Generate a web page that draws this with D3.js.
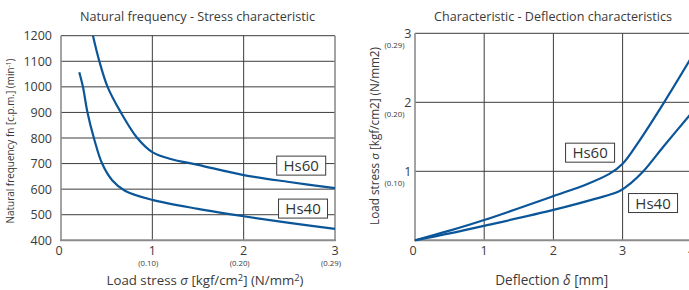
<!DOCTYPE html>
<meta charset="utf-8">
<style>
  body { margin: 0; background: #fff; }
  svg { font-family: "Open Sans", "Noto Sans", sans-serif; }
  .grid { stroke: #3c3c3c; stroke-width: 1; }
  .frame { stroke: #8c8c8c; stroke-width: 1.6; }
  .tick { fill: #3a3a3a; font-size: 12.5px; }
  .sub { fill: #3a3a3a; font-size: 7.8px; }
  .title { fill: #3a3a3a; font-size: 14px; }
  .curve { fill: none; stroke: #0b5698; stroke-width: 2.2; }
  .tag rect { fill: #fff; stroke: #3a3a3a; stroke-width: 1; }
  .tag text { fill: #333; font-size: 15px; }
</style>
<body>
<svg width="689" height="290"></svg>
<script src="https://cdn.jsdelivr.net/npm/d3@7"></script>
<script>
// ---- data ----
const seriesNames = ["Hs60", "Hs40"];

// natural frequency vs load stress
const freqXTicks = [0, 1, 2, 3];
const freqXSub = ["", "(0.10)", "(0.20)", "(0.29)"];
const freqYTicks = [400, 500, 600, 700, 800, 900, 1000, 1100, 1200];
const hs60Freq = [[0.35, 1200], [0.42, 1100], [0.51, 1000], [0.655, 900], [0.835, 800],
  [1.0, 745], [1.2, 718], [1.5, 695], [2.0, 655], [2.5, 628], [3.0, 604]];
const hs40Freq = [[0.20, 1057], [0.24, 1000], [0.29, 900], [0.36, 800], [0.45, 700],
  [0.56, 635], [0.70, 594], [1.0, 558], [1.5, 523], [2.0, 494], [2.5, 468], [3.0, 445]];

// load stress vs deflection
const deflXTicks = [0, 1, 2, 3, 4];
const deflYTicks = [1, 2, 3];
const deflYSub = ["(0.10)", "(0.20)", "(0.29)"];
const hs60Defl = [[0, 0], [0.5, 0.14], [1, 0.294], [2, 0.64], [2.5, 0.82],
  [2.82, 0.97], [3.0, 1.11], [3.2, 1.38], [3.6, 2.0], [4.0, 2.66]];
const hs40Defl = [[0, 0], [0.5, 0.10], [1, 0.21], [2, 0.44], [2.6, 0.60], [2.95, 0.71],
  [3.12, 0.83], [3.3, 1.0], [3.6, 1.37], [4.0, 1.85]];

const svg = d3.select("svg");

function chart(o) {
  const g = svg.append("g");
  const [x0, x1] = o.x.range(), [yb, yt] = o.y.range();
  const clipId = "clip" + o.id;
  svg.append("clipPath").attr("id", clipId)
    .append("rect").attr("x", x0).attr("y", yt - 2).attr("width", x1 - x0).attr("height", yb - yt + 4);

  // grid
  g.selectAll(".gx").data(o.xTicks.slice(1, -1).concat(o.openRight ? [o.xTicks[o.xTicks.length - 1]] : []))
    .enter().append("line").attr("class", "grid")
    .attr("x1", d => o.x(d)).attr("x2", d => o.x(d)).attr("y1", yt).attr("y2", yb);
  g.selectAll(".gy").data(o.yTicks.filter(d => d !== o.y.domain()[0]))
    .enter().append("line").attr("class", "grid")
    .attr("x1", x0).attr("x2", x1).attr("y1", d => o.y(d)).attr("y2", d => o.y(d));
  // frame
  g.append("line").attr("class", "frame").attr("x1", x0).attr("x2", x0).attr("y1", yt).attr("y2", yb);
  if (!o.openRight)
    g.append("line").attr("class", "frame").attr("x1", x1).attr("x2", x1).attr("y1", yt).attr("y2", yb);
  g.append("line").attr("class", "frame").attr("x1", x0 - 1).attr("x2", x1 + 1).attr("y1", yb).attr("y2", yb)
    .style("stroke-width", 2);

  // curves
  const line = d3.line().x(d => o.x(d[0])).y(d => o.y(d[1])).curve(d3.curveCatmullRom.alpha(0.5));
  g.append("g").attr("clip-path", `url(#${clipId})`)
    .selectAll("path").data(o.series).enter().append("path")
    .attr("class", "curve").attr("d", line);

  // series tags
  o.tags.forEach((t, i) => {
    const cx = o.x(t[0]), cy = o.y(t[1]);
    const tg = g.append("g").attr("class", "tag");
    tg.append("rect").attr("x", cx - 24.5).attr("y", cy - 9.5).attr("width", 49).attr("height", 19);
    tg.append("text").attr("x", cx).attr("y", cy + 5.5).attr("text-anchor", "middle").text(seriesNames[i]);
  });

  // x tick labels
  g.selectAll(".xl").data(o.xTicks).enter().append("text").attr("class", "tick")
    .attr("x", d => o.x(d) - (d === 0 ? 2 : 0)).attr("y", yb + 14.5).attr("text-anchor", "middle").text(d => d);
  if (o.xSub)
    g.selectAll(".xs").data(o.xTicks).enter().append("text").attr("class", "sub")
      .attr("x", d => o.x(d) - 4).attr("y", yb + 26).attr("text-anchor", "middle")
      .text((d, i) => o.xSub[i]);

  // y tick labels
  g.selectAll(".yl").data(o.yTicks).enter().append("text").attr("class", "tick")
    .attr("x", o.yLabelX).attr("y", d => o.y(d) + 4.5).attr("text-anchor", "end").text(d => d);
  if (o.ySub)
    g.selectAll(".ys").data(o.yTicks).enter().append("text").attr("class", "sub")
      .attr("x", o.yLabelX - 7).attr("y", d => o.y(d) + 14.5).attr("text-anchor", "end")
      .text((d, i) => o.ySub[i]);
  return g;
}

// shrink a text's font so its natural width matches the reference width
function fit(sel, width) {
  const fs = parseFloat(getComputedStyle(sel.node()).fontSize);
  const w = sel.node().getComputedTextLength();
  sel.style("font-size", (fs * width / w).toFixed(2) + "px");
  return sel;
}

// ---- left chart ----
const xF = d3.scaleLinear().domain([0, 3]).range([61, 335]);
const yF = d3.scaleLinear().domain([400, 1200]).range([240.3, 35.7]);
chart({
  id: "f", x: xF, y: yF, xTicks: freqXTicks, yTicks: freqYTicks, xSub: freqXSub,
  yLabelX: 52, series: [hs60Freq, hs40Freq], tags: [[2.63, 692], [2.65, 524]]
});

// ---- right chart ----
const xD = d3.scaleLinear().domain([0, 4]).range([415, 691.8]);
const yD = d3.scaleLinear().domain([0, 3]).range([240.3, 33.3]);
chart({
  id: "d", x: xD, y: yD, xTicks: deflXTicks, yTicks: deflYTicks, ySub: deflYSub,
  yLabelX: 411.5, openRight: true, series: [hs60Defl, hs40Defl], tags: [[2.53, 1.27], [3.44, 0.54]]
});

// ---- titles ----
fit(svg.append("text").attr("class", "title").attr("x", 197.5).attr("y", 21)
  .attr("text-anchor", "middle").text("Natural frequency - Stress characteristic"), 235);
fit(svg.append("text").attr("class", "title").attr("x", 553).attr("y", 21)
  .attr("text-anchor", "middle").text("Characteristic - Deflection characteristics"), 238);

// x-axis titles
const xt1 = svg.append("text").attr("class", "title")
  .attr("x", 205).attr("y", 285).attr("text-anchor", "middle");
xt1.append("tspan").text("Load stress ");
xt1.append("tspan").style("font-style", "italic").text("σ");
xt1.append("tspan").text("  [kgf/cm");
xt1.append("tspan").attr("dy", -4).style("font-size", "0.7em").text("2");
xt1.append("tspan").attr("dy", 4).text("] (N/mm");
xt1.append("tspan").attr("dy", -4).style("font-size", "0.7em").text("2");
xt1.append("tspan").attr("dy", 4).text(")");
fit(xt1, 197);

const xt2 = svg.append("text").attr("class", "title")
  .attr("x", 551.7).attr("y", 285).attr("text-anchor", "middle");
xt2.append("tspan").text("Deflection ");
xt2.append("tspan").style("font-style", "italic").text("δ");
xt2.append("tspan").text(" [mm]");
fit(xt2, 113);

// y-axis titles
const yt1 = svg.append("text").attr("class", "title")
  .attr("transform", "translate(14,141) rotate(-90)").attr("text-anchor", "middle");
yt1.append("tspan").text("Natural frequency fn [c.p.m.] (min");
yt1.append("tspan").attr("dy", -3).style("font-size", "0.68em").text("-1");
yt1.append("tspan").attr("dy", 3).text(")");
fit(yt1, 165);

const yt2 = svg.append("text").attr("class", "title")
  .attr("transform", "translate(379,136) rotate(-90)").attr("text-anchor", "middle");
yt2.append("tspan").text("Load stress ");
yt2.append("tspan").style("font-style", "italic").text("σ");
yt2.append("tspan").text(" [kgf/cm2] (N/mm2)");
fit(yt2, 178);
</script>
</body>
